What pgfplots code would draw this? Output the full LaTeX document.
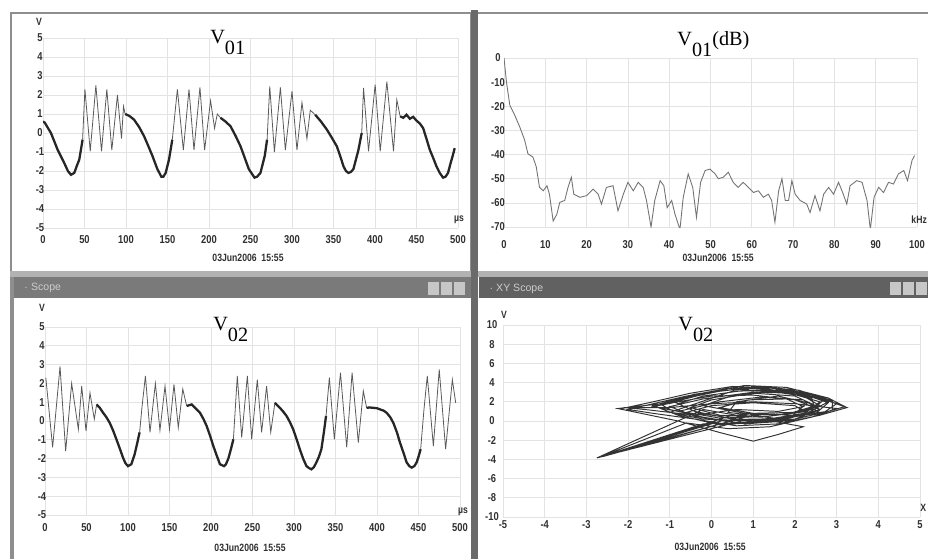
\documentclass[border=0pt]{standalone}
\usepackage{fontspec}
\setmainfont{Liberation Sans}
\newfontfamily\ttlfont{Liberation Serif}
\newfontfamily\tickfont[FakeStretch=0.82]{Liberation Sans}
\usepackage{pgfplots}
\pgfplotsset{compat=1.18}
\definecolor{gridc}{HTML}{E3E3E3}
\definecolor{framec}{HTML}{8E8E8E}
\definecolor{sepc}{HTML}{6A6A6A}
\definecolor{barc}{HTML}{7A7A7A}
\definecolor{tickc}{HTML}{303030}

\pgfplotsset{
  scopeax/.style={
    scale only axis, anchor=south west,
    axis line style={draw=none}, tick style={draw=none},
    grid=major, major grid style={draw=gridc, line width=0.4pt},
    ticklabel style={font=\tickfont\bfseries\fontsize{6.5}{7}\selectfont, text=tickc, anchor=center},
    /pgf/number format/assume math mode=true,
  },
  burst/.style={color=black!65, line width=0.45pt},
  smooth/.style={color=black!85, line width=1.3pt},
}

\newcommand{\stamp}{03Jun2006\ \ 15:55}

\begin{document}
\begin{tikzpicture}
\useasboundingbox (0,0) rectangle (18.56,11.16);
\fill[white] (0,0) rectangle (18.56,11.16);

% window frames, in pixel units from the top left
\begin{scope}[x=0.02cm, y=-0.02cm, yshift=11.16cm]
  \draw[framec, line width=1.7pt] (11,13) rectangle (471,272);
  \draw[framec, line width=1.7pt] (476,13) -- (930,13);
  \fill[black!30] (10,271) rectangle (928,277);
  \fill[barc] (12,277) rectangle (471,298);
  \fill[black!62] (479,277) rectangle (928,298);
  \draw[framec, line width=2.2pt] (12,277) -- (12,560);
  \fill[sepc] (471,10) rectangle (478,560);
  \foreach \bx in {428,441,454} \fill[black!22] (\bx,282) rectangle ++(11,13);
  \foreach \bx in {890,903,916} \fill[black!22] (\bx,282) rectangle ++(11,13);
  \node[anchor=west, text=black!20, font=\fontsize{6}{7}\selectfont] at (18,288) {\(\cdot\)\ Scope};
  \node[anchor=west, text=black!20, font=\fontsize{6}{7}\selectfont] at (483,289) {\(\cdot\)\ XY Scope};
\end{scope}

% top left: V01 against time
\begin{axis}[scopeax, at={(0.86cm,6.60cm)}, width=8.30cm, height=3.80cm,
  xmin=0, xmax=500, ymin=-5, ymax=5,
  xtick={0,50,...,500}, ytick={-5,...,5},
  xticklabel style={yshift=-0.24cm}, yticklabel style={xshift=-0.06cm}]
\addplot[smooth] coordinates {(0,0.6) (2,0.55) (9.6,0) (17.6,-0.88) (25.6,-1.58) (30,-2.0) (33.7,-2.2) (37.7,-2.1) (41,-1.7) (43.7,-1.4) (47.7,-0.35)};
\addplot[burst] coordinates {(47.7,-0.35) (50.5,2.3) (56.9,-0.96) (63.7,2.5) (70.5,-0.96) (76.9,2.3) (82.9,-0.9) (89.7,2.0) (94.6,-0.3) (97,1.4) (99,1.0)};
\addplot[smooth] coordinates {(99,1.0) (104,0.9) (109.8,0.7) (116,0.3) (121.8,-0.17) (127,-0.7) (131.8,-1.2) (137.8,-1.9) (142.6,-2.3) (145,-2.3) (147.8,-2.1) (151.8,-1.4) (155.8,-0.35)};
\addplot[burst] coordinates {(155.8,-0.35) (161.9,2.3) (169.1,-0.9) (175.9,2.3) (181.9,-0.9) (189.1,2.4) (194.7,-0.9) (201.9,1.7) (206.7,0.25) (210,1.0) (213.9,0.8)};
\addplot[smooth] coordinates {(213.9,0.8) (220,0.6) (226,0.35) (232,-0.15) (238,-0.7) (243,-1.3) (248,-1.9) (254.8,-2.35) (258,-2.3) (262,-2.1) (267.2,-1.2) (270,-0.35)};
\addplot[burst] coordinates {(270,-0.35) (273.2,2.45) (278.8,-1.0) (286,2.4) (292,-0.9) (300,2.2) (306,-0.9) (312,1.6) (318,-0.3) (322,1.2) (328,0.96)};
\addplot[smooth] coordinates {(328,0.96) (335,0.6) (342,0.18) (348,-0.25) (354,-0.7) (358,-1.2) (362,-1.75) (365,-2.0) (368,-2.1) (371,-2.05) (374,-1.9) (377,-1.4) (380,-0.9) (384,0)};
\addplot[burst] coordinates {(384,0) (386.2,2.37) (392.2,-0.96) (400.2,2.55) (406.3,-0.96) (414.3,2.7) (422.3,-0.96) (426.3,1.75) (430.3,0.88)};
\addplot[smooth] coordinates {(430.3,0.88) (434,0.8) (438,0.96) (442,0.75) (446,0.85) (450,0.65) (454,0.5) (458,0.26) (462,-0.3) (466,-0.88) (470,-1.3) (474,-1.75) (478,-2.1) (482,-2.35) (485,-2.3) (488,-2.1) (491,-1.6) (494,-1.14) (496,-0.8)};
\end{axis}

% top right: spectrum of V01
\begin{axis}[scopeax, at={(10.08cm,6.62cm)}, width=8.26cm, height=3.38cm,
  xmin=0, xmax=100, ymin=-70, ymax=0,
  xtick={0,10,...,100}, ytick={-70,-60,...,0},
  xticklabel style={yshift=-0.36cm}, yticklabel style={xshift=-0.12cm}]
\addplot[color=black!55, line width=0.5pt] coordinates {
(0,0) (0.6,-10) (1.4,-19.5) (2.6,-23.7) (3.8,-28.5) (5,-34) (5.8,-39.7) (7,-41) (7.8,-45)
(8.6,-53.6) (9.5,-55) (10.4,-52.9) (11,-56.4) (11.9,-67.5) (12.8,-64.7) (13.5,-59.8) (14.7,-59)
(15.5,-53.6) (16.3,-49.4) (16.9,-56.4) (18.4,-57.7) (20,-57) (21.6,-54.3) (22.8,-56.4) (23.6,-60.5)
(24.8,-53.6) (26.4,-52.9) (27.6,-63.3) (28.9,-56.4) (30,-51.5) (31.3,-55) (32.5,-51.5) (33.7,-53.6)
(34.5,-59) (35.6,-70) (36.5,-59) (37.8,-50.8) (38.7,-52.9) (39.5,-62) (40.6,-59) (41.4,-64.7)
(42.6,-71) (43.4,-57.7) (44.6,-48) (45.7,-53.6) (46.6,-66) (47.6,-51.5) (48.7,-46.6) (49.9,-46)
(51.1,-48) (51.9,-50) (53.1,-49.4) (54.3,-47.3) (55.5,-51.5) (56.7,-53.6) (57.9,-51.5) (59.2,-53.6)
(60.4,-55.7) (61.6,-55) (62.8,-57.7) (64,-56.4) (64.8,-59) (65.6,-68) (66.5,-55) (67.3,-50)
(68.1,-59) (68.9,-59) (69.7,-50.8) (70.5,-56.4) (71.7,-59) (73.3,-60.5) (74.1,-64) (75.3,-57)
(76.5,-63.3) (77.4,-56.4) (78.6,-53.6) (79.8,-56.4) (81,-51.5) (82,-55.7) (83,-60.5) (83.8,-52.9)
(85.4,-50.8) (86.7,-51.5) (87.9,-59) (88.7,-71) (89.6,-57.7) (90.7,-53.6) (91.9,-55.7) (93.1,-51.5)
(94.3,-52.2) (95.5,-48) (96.8,-46.6) (97.7,-50.8) (98.8,-42.4) (99.4,-40.4)};
\end{axis}

% bottom left: V02 against time
\begin{axis}[scopeax, at={(0.90cm,0.86cm)}, width=8.30cm, height=3.76cm,
  xmin=0, xmax=500, ymin=-5, ymax=5,
  xtick={0,50,...,500}, ytick={-5,...,5},
  xticklabel style={yshift=-0.26cm}, yticklabel style={xshift=-0.06cm}]
\addplot[burst] coordinates {(1,2.3) (9.2,-1.4) (18.1,2.9) (24.9,-1.6) (32.1,2.0) (40.2,-0.44) (44.2,1.86) (49.4,-0.53) (54.2,1.5) (59.4,0.1) (62.2,0.88)};
\addplot[smooth] coordinates {(62.2,0.88) (66,0.7) (70,0.44) (74,0.2) (78,-0.1) (82,-0.5) (86,-0.97) (90,-1.45) (94,-1.95) (97,-2.25) (100,-2.4) (104,-2.3) (108,-1.77) (111,-1.2) (114,-0.6)};
\addplot[burst] coordinates {(114,-0.6) (117,0.8) (121,2.4) (126.5,-0.6) (133,2.0) (138.5,-0.5) (144.6,1.86) (150,-0.44) (155.4,1.95) (160.6,-0.35) (166,1.7) (170.7,0.8)};
\addplot[smooth] coordinates {(170.7,0.8) (176.7,0.88) (182,0.65) (186.7,0.44) (191,0.1) (194.8,-0.27) (199,-0.8) (202.8,-1.33) (207,-1.85) (210.8,-2.3) (215.7,-2.4) (218,-2.3) (220.9,-2.0) (224,-1.5) (227,-0.97)};
\addplot[burst] coordinates {(227,-0.97) (231.7,2.4) (237,-0.88) (243.8,2.4) (249,-0.97) (255.8,2.2) (261,-0.6) (267,1.86) (272,-0.6) (277,0.97)};
\addplot[smooth] coordinates {(277,0.97) (283,0.7) (287,0.5) (291,0.27) (295,-0.05) (299,-0.44) (303,-0.95) (307,-1.5) (311,-2.0) (315,-2.4) (318,-2.5) (321,-2.57) (324,-2.45) (327,-2.2) (330,-1.9) (333,-1.5) (336,-0.6) (338.6,0.27)};
\addplot[burst] coordinates {(338.6,0.27) (342.6,2.3) (348.6,-0.97) (356,2.57) (363.5,-1.4) (370,2.57) (377.5,-1.15) (383.5,1.6) (387.5,0.7)};
\addplot[smooth] coordinates {(387.5,0.7) (391,0.72) (395.6,0.7) (400,0.68) (403.6,0.62) (408,0.55) (411.6,0.44) (416,0.2) (419.7,-0.1) (424,-0.6) (427.7,-1.15) (432,-1.7) (435.7,-2.2) (439,-2.4) (441.8,-2.48) (445,-2.4) (447.8,-2.2) (450,-1.9) (452.6,-1.5)};
\addplot[burst] coordinates {(452.6,-1.5) (456.6,0.62) (460.6,2.4) (467.9,-1.33) (475,2.74) (482.7,-1.5) (490.8,2.2) (494.8,0.97)};
\end{axis}

% bottom right: XY scope
\begin{axis}[scopeax, at={(10.06cm,0.82cm)}, width=8.34cm, height=3.84cm,
  xmin=-5, xmax=5, ymin=-10, ymax=10,
  xtick={-5,...,5}, ytick={-10,-8,...,10},
  xticklabel style={yshift=-0.16cm}, yticklabel style={xshift=-0.22cm}]
\addplot[color=black!80, line width=0.55pt] coordinates {
(-2.2,1.25) (-1.4,2.0) (-0.5,2.9) (0.5,3.6) (1.5,3.4) (2.4,2.7) (3.25,1.4) (2.6,0.6) (1.6,-0.3) (0.6,-0.5) (-0.4,0.2) (-1.4,0.8) (-2.0,1.2)
(-1.6,1.6) (-0.6,2.6) (0.4,3.4) (1.4,3.5) (2.3,2.9) (3.0,1.8) (2.7,0.9) (1.8,0.0) (0.8,-0.3) (-0.2,0.4) (-1.0,1.2) (-1.2,1.7)
(-0.6,2.4) (0.3,3.2) (1.2,3.4) (2.2,2.8) (2.8,1.9) (2.5,0.8) (1.5,0.1) (0.5,0.2) (-0.4,1.0) (-0.8,1.8)
(-0.2,2.6) (0.8,3.2) (1.8,3.0) (2.6,2.0) (2.3,1.0) (1.2,0.4) (0.2,0.6) (-0.5,1.4)
(0.0,2.2) (1.0,2.9) (2.0,2.6) (2.5,1.6) (1.8,0.7) (0.6,0.6) (-0.2,1.2)
(-2.75,-3.85) (0.3,0.1) (-2.6,-3.7) (0.8,0.4) (-2.4,-3.4) (0.5,0.6) (-2.65,-3.75) (0.1,-0.1) (-2.5,-3.55) (0.9,0.2)
(1.2,0.2) (2.2,-0.6) (1.6,-1.4) (1.0,-2.1) (0.2,-1.2) (-0.8,0.0) (-1.8,0.9) (-2.25,1.3) (-1.2,1.8) (-0.2,2.9) (0.8,3.7) (1.8,3.5) (2.8,2.4) (3.2,1.5) (2.8,1.0) (2.0,0.6) (0.8,0.8) (-0.2,1.6) (0.4,2.5) (1.4,3.1) (2.2,2.6) (2.6,1.6) (2.0,0.9) (1.0,0.8) (0.2,1.4) (0.9,2.2) (1.8,2.3) (2.2,1.5) (1.6,1.0) (0.6,1.2)
(-0.4,0.6) (-1.6,1.2) (-2.1,1.4) (-1.0,1.4) (0.0,1.8) (1.0,2.0) (2.0,1.8) (3.0,1.3) (2.4,0.4) (1.4,-0.6) (0.4,-0.8) (-0.6,-0.2) (-2.7,-3.8) (-0.2,-0.3) (1.0,-0.2) (2.0,0.2) (2.6,1.2) (2.0,2.2) (1.0,2.7) (0.0,2.6) (-0.8,2.0) (-1.4,1.5)
(-0.8,1.0) (0.2,2.0) (1.2,2.5) (2.2,2.2) (2.6,1.2) (1.8,0.2) (0.6,-0.2) (-0.4,0.5) (-1.0,1.5) (-0.2,2.3) (1.0,3.0) (2.0,2.9) (2.7,2.2) (2.4,1.2) (1.4,0.5) (0.2,0.3) (-0.6,0.9) (0.0,1.6) (1.0,1.9) (2.0,1.6) (2.3,0.8) (1.2,-0.1) (0.2,-0.4) (-0.8,0.6) (-1.4,1.6) (-0.4,2.8) (0.8,3.4) (2.0,3.1) (2.8,2.0) (2.2,0.6) (1.0,0.0) (-0.2,0.2) (-1.0,0.9)
(0.5,3.1) (1.5,3.2) (2.4,2.4) (2.5,1.0) (1.5,0.3) (0.4,0.9) (0.6,2.0) (1.6,2.6) (2.3,1.9) (1.9,0.4) (0.8,0.1) (-0.3,0.8) (-0.9,2.0) (0.0,3.0) (1.1,3.6) (2.1,3.2) (2.9,2.1) (2.9,1.1)};
\end{axis}

% titles, units and time stamps
\begin{scope}[x=0.02cm, y=-0.02cm, yshift=11.16cm]
  \node[anchor=base west, inner sep=0pt, font=\ttlfont\fontsize{11.5}{12}\selectfont] at (210,43) {V\raisebox{-6.5pt}{01}};
  \node[anchor=base west, inner sep=0pt, font=\ttlfont\fontsize{11.5}{12}\selectfont] at (677,45) {V\raisebox{-6.5pt}{01}(dB)};
  \node[anchor=base west, inner sep=0pt, font=\ttlfont\fontsize{11.5}{12}\selectfont] at (213,330) {V\raisebox{-6.5pt}{02}};
  \node[anchor=base west, inner sep=0pt, font=\ttlfont\fontsize{11.5}{12}\selectfont] at (678,330) {V\raisebox{-6.5pt}{02}};
  \tikzset{lab/.style={text=tickc, font=\tickfont\bfseries\fontsize{6}{7}\selectfont, inner sep=0pt}}
  \node[lab] at (39,22) {V};
  \node[lab] at (42,308) {V};
  \node[lab] at (504,315) {V};
  \node[lab] at (459,220) {\textmu s};
  \node[lab] at (463,512) {\textmu s};
  \node[lab, anchor=east] at (927,220) {kHz};
  \node[lab] at (923,508) {X};
  \node[lab] at (248,258) {\stamp};
  \node[lab] at (718,258) {\stamp};
  \node[lab] at (250,548) {\stamp};
  \node[lab] at (710,547) {\stamp};
\end{scope}
\end{tikzpicture}
\end{document}
